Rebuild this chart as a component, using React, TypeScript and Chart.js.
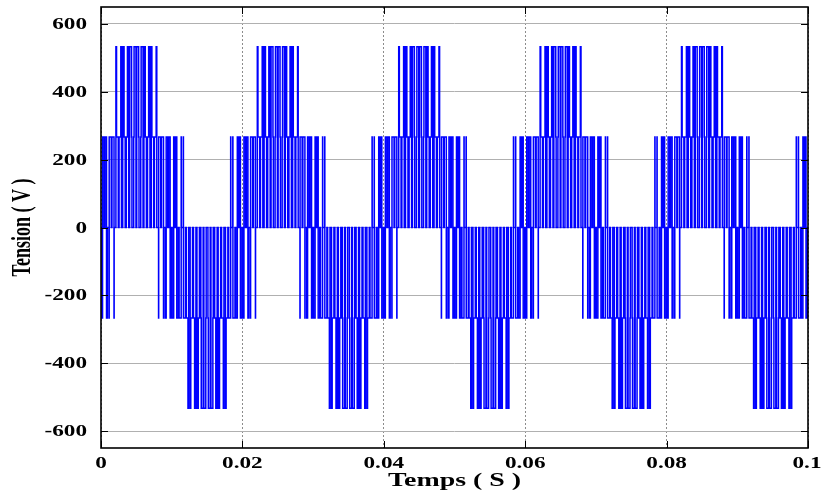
import { useEffect, useRef } from 'react';
import { Chart, registerables } from 'chart.js';

Chart.register(...registerables);

// Axis ticks
const xTickValues = [0, 0.02, 0.04, 0.06, 0.08, 0.1];
const xTickLabels = ['0', '0.02', '0.04', '0.06', '0.08', '0.1'];
const yTickValues = [-600, -400, -200, 0, 200, 400, 600];
const yTickLabels = ['-600', '-400', '-200', '0', '200', '400', '600'];

const xTitle = 'Temps ( S )';
const yTitle = 'Tension ( V )';

// The waveform repeats every 20 ms (50 Hz); start of each period in ms
const periodStartsMs = [0, 20, 40, 60, 80];

// Switching instants within one period (ms) and the voltage level (V) held from each instant
const switchTimesMs = [
  0.095, 0.219, 0.437, 0.563, 0.781, 0.905,
  1.141, 1.159, 1.45, 1.55, 1.841, 1.859,
  2.109, 2.198, 2.443, 2.557, 2.802, 2.891,
  3.072, 3.261, 3.418, 3.582, 3.739, 3.928,
  4.053, 4.322, 4.376, 4.624, 4.678, 4.947,
  5.053, 5.322, 5.376, 5.624, 5.678, 5.947,
  6.072, 6.261, 6.418, 6.582, 6.739, 6.928,
  7.109, 7.198, 7.443, 7.557, 7.802, 7.891,
  8.141, 8.159, 8.45, 8.55, 8.841, 8.859,
  9.095, 9.219, 9.437, 9.563, 9.781, 9.905,
  10.063, 10.281, 10.405, 10.595, 10.719, 10.937,
  11.05, 11.341, 11.359, 11.641, 11.659, 11.95,
  12.057, 12.302, 12.391, 12.609, 12.698, 12.943,
  13.082, 13.239, 13.428, 13.572, 13.761, 13.918,
  14.124, 14.178, 14.448, 14.552, 14.822, 14.876,
  15.124, 15.178, 15.448, 15.552, 15.822, 15.876,
  16.082, 16.239, 16.428, 16.572, 16.761, 16.918,
  17.057, 17.302, 17.391, 17.609, 17.698, 17.943,
  18.05, 18.341, 18.359, 18.641, 18.659, 18.95,
  19.063, 19.281, 19.405, 19.595, 19.719, 19.937,
];
const switchLevels = [
  -267, 267, 0, 267, -267, 0,
  -267, 267, 0, 267, -267, 0,
  533, 267, 0, 267, 533, 0,
  533, 267, 0, 267, 533, 0,
  533, 267, 0, 267, 533, 0,
  533, 267, 0, 267, 533, 0,
  533, 267, 0, 267, 533, 0,
  533, 267, 0, 267, 533, 0,
  -267, 267, 0, 267, -267, 0,
  -267, 267, 0, 267, -267, 0,
  -267, 267, 0, 267, -267, 0,
  -267, 267, 0, 267, -267, 0,
  -267, -533, 0, -533, -267, 0,
  -267, -533, 0, -533, -267, 0,
  -267, -533, 0, -533, -267, 0,
  -267, -533, 0, -533, -267, 0,
  -267, -533, 0, -533, -267, 0,
  -267, -533, 0, -533, -267, 0,
  -267, 267, 0, 267, -267, 0,
  -267, 267, 0, 267, -267, 0,
];

const SERIF = '"Liberation Serif", "Times New Roman", serif';

const overlayPlugin = {
  id: 'overlay',
  afterDraw(chart: any) {
    const { ctx, chartArea, scales } = chart;
    const { left, right, top, bottom } = chartArea;
    const xs = scales.x;
    const ys = scales.y;
    ctx.save();
    // frame
    ctx.strokeStyle = '#000';
    ctx.lineWidth = 1.6;
    ctx.strokeRect(left, top, right - left, bottom - top);
    // inward tick marks
    ctx.lineWidth = 1;
    ctx.beginPath();
    yTickValues.forEach((v) => {
      const py = Math.round(ys.getPixelForValue(v)) + 0.5;
      ctx.moveTo(left, py);
      ctx.lineTo(left + 7, py);
      ctx.moveTo(right, py);
      ctx.lineTo(right - 7, py);
    });
    xTickValues.forEach((v) => {
      const px = Math.round(xs.getPixelForValue(v)) + 0.5;
      ctx.moveTo(px, bottom);
      ctx.lineTo(px, bottom - 7);
      ctx.moveTo(px, top);
      ctx.lineTo(px, top + 7);
    });
    ctx.stroke();

    ctx.fillStyle = '#000';
    // y tick labels
    ctx.font = `bold 16px ${SERIF}`;
    ctx.textAlign = 'right';
    ctx.textBaseline = 'middle';
    yTickValues.forEach((v, i) => {
      ctx.save();
      ctx.translate(left - 14, ys.getPixelForValue(v) + 1);
      ctx.scale(1.45, 1);
      ctx.fillText(yTickLabels[i], 0, 0);
      ctx.restore();
    });
    // x tick labels
    ctx.textAlign = 'center';
    ctx.textBaseline = 'alphabetic';
    xTickValues.forEach((v, i) => {
      ctx.save();
      ctx.translate(Math.min(xs.getPixelForValue(v), chart.width - 18), bottom + 20);
      ctx.scale(1.45, 1);
      ctx.fillText(xTickLabels[i], 0, 0);
      ctx.restore();
    });
    // x title
    ctx.font = `bold 18px ${SERIF}`;
    ctx.save();
    ctx.translate((left + right) / 2, bottom + 38);
    ctx.scale(1.55, 1);
    ctx.fillText(xTitle, 0, 0);
    ctx.restore();
    // y title
    ctx.save();
    ctx.translate(30, (top + bottom) / 2);
    ctx.scale(1.55, 1);
    ctx.rotate(-Math.PI / 2);
    ctx.textBaseline = 'alphabetic';
    ctx.fillText(yTitle, 0, 0);
    ctx.restore();

    ctx.restore();
  },
};

export default function App() {
  const canvasRef = useRef<HTMLCanvasElement | null>(null);

  useEffect(() => {
    if (!canvasRef.current) return;
    const points: { x: number; y: number }[] = [{ x: 0, y: 0 }];
    periodStartsMs.forEach((p) => {
      switchTimesMs.forEach((t, i) => {
        points.push({ x: (p + t) / 1000, y: switchLevels[i] });
      });
    });
    points.push({ x: 0.1, y: 0 });

    const chart = new Chart(canvasRef.current, {
      type: 'line',
      data: {
        datasets: [
          {
            data: points,
            borderColor: '#0000ff',
            borderWidth: 1.5,
            stepped: true,
            pointRadius: 0,
            fill: false,
          },
        ],
      },
      options: {
        animation: false,
        responsive: true,
        maintainAspectRatio: false,
        events: [],
        layout: { padding: { top: 7, right: 17, left: 0, bottom: 0 } },
        plugins: { legend: { display: false }, tooltip: { enabled: false } },
        scales: {
          x: {
            type: 'linear',
            min: 0,
            max: 0.1,
            afterBuildTicks: (s: any) => {
              s.ticks = xTickValues.map((v) => ({ value: v }));
            },
            afterFit: (s: any) => {
              s.height = 44;
            },
            ticks: { display: false },
            grid: { color: '#8c8c8c', lineWidth: 1, drawTicks: false },
            border: { display: false, dash: [2, 2] },
          },
          y: {
            type: 'linear',
            min: -650,
            max: 650,
            afterBuildTicks: (s: any) => {
              s.ticks = yTickValues.map((v) => ({ value: v }));
            },
            afterFit: (s: any) => {
              s.width = 101;
            },
            ticks: { display: false },
            grid: { color: '#b0b0b0', lineWidth: 1, drawTicks: false },
            border: { display: false },
          },
        },
      },
      plugins: [overlayPlugin],
    });
    return () => chart.destroy();
  }, []);

  return (
    <div style={{ position: 'fixed', left: 0, top: 0, width: 825, height: 492, background: '#fff' }}>
      <canvas ref={canvasRef} />
    </div>
  );
}
